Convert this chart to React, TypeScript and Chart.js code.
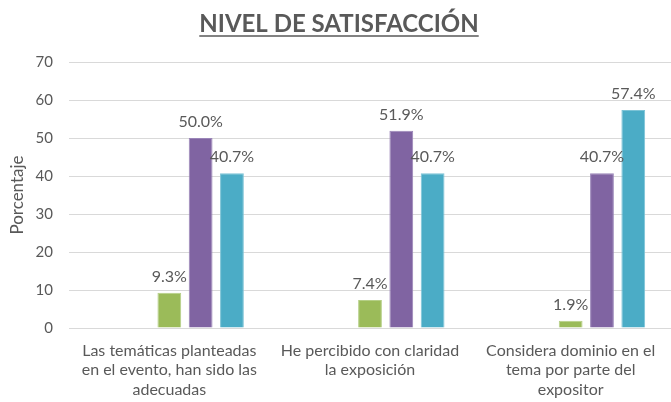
import React, { useEffect, useRef } from "react";
import { Chart, registerables } from "chart.js";

Chart.register(...registerables);

const TITLE = "NIVEL DE SATISFACCIÓN";
const Y_TITLE = "Porcentaje";
const categories: string[][] = [
  ["Las temáticas planteadas", "en el evento, han sido las", "adecuadas"],
  ["He percibido con claridad", "la exposición"],
  ["Considera dominio en el", "tema por parte del", "expositor"],
];
const seriesA = [9.3, 7.4, 1.9];
const seriesB = [50.0, 51.9, 40.7];
const seriesC = [40.7, 40.7, 57.4];
const emptySeries: (number | null)[] = [null, null, null];
const yMin = 0;
const yMax = 70;
const yStep = 10;

const GREEN = "#9BBB59";
const PURPLE = "#8064A2";
const TEAL = "#4BACC6";
const TEXT = "#595959";
const FONT = "Lato, 'Open Sans', sans-serif";

const labelPlugin = {
  id: "barLabels",
  afterDatasetsDraw(chart: any) {
    const ctx = chart.ctx;
    ctx.save();
    ctx.font = `16px ${FONT}`;
    ctx.fillStyle = TEXT;
    ctx.textAlign = "center";
    ctx.textBaseline = "alphabetic";
    chart.data.datasets.forEach((ds: any, di: number) => {
      if (!ds.showLabels) return;
      const meta = chart.getDatasetMeta(di);
      meta.data.forEach((bar: any, i: number) => {
        const v = ds.data[i];
        if (v == null) return;
        ctx.fillText(v.toFixed(1) + "%", bar.x, bar.y - 11);
      });
    });
    ctx.restore();
  },
};

const titlePlugin = {
  id: "ulTitle",
  afterDraw(chart: any) {
    const ctx = chart.ctx;
    ctx.save();
    ctx.font = `bold 24px ${FONT}`;
    ctx.fillStyle = TEXT;
    ctx.textAlign = "center";
    ctx.textBaseline = "alphabetic";
    const cx = 339;
    const by = 32;
    ctx.fillText(TITLE, cx, by);
    const w = ctx.measureText(TITLE).width;
    ctx.strokeStyle = TEXT;
    ctx.lineWidth = 1.5;
    ctx.beginPath();
    ctx.moveTo(cx - w / 2, by + 4);
    ctx.lineTo(cx + w / 2, by + 4);
    ctx.stroke();
    ctx.restore();
  },
};

export default function App() {
  const ref = useRef<HTMLCanvasElement>(null);
  useEffect(() => {
    if (!ref.current) return;
    const chart = new Chart(ref.current, {
      type: "bar",
      data: {
        labels: categories,
        datasets: [
          { label: "", data: emptySeries, backgroundColor: "transparent" },
          { label: "", data: emptySeries, backgroundColor: "transparent" },
          { label: "A", data: seriesA, backgroundColor: GREEN, borderColor: "#b5cf86", borderWidth: 1, showLabels: true } as any,
          { label: "B", data: seriesB, backgroundColor: PURPLE, borderColor: "#9a85b8", borderWidth: 1, showLabels: true } as any,
          { label: "C", data: seriesC, backgroundColor: TEAL, borderColor: "#7cc3d6", borderWidth: 1, showLabels: true } as any,
        ],
      },
      options: {
        animation: false,
        responsive: false,
        maintainAspectRatio: false,
        layout: { padding: { top: 62, right: 0, left: 0, bottom: 0 } },
        datasets: { bar: { categoryPercentage: 0.78, barPercentage: 0.76 } },
        plugins: {
          legend: { display: false },
          title: { display: false },
          tooltip: { enabled: false },
        },
        scales: {
          x: {
            grid: { display: false, drawTicks: false },
            border: { display: false },
            ticks: {
              color: TEXT,
              font: { family: FONT, size: 16, lineHeight: 1.22 },
              maxRotation: 0,
              autoSkip: false,
              padding: 13,
            },
            afterFit(scale: any) {
              scale.height = 74;
            },
          },
          y: {
            min: yMin,
            max: yMax,
            grid: { color: "#d9d9d9", drawTicks: false, lineWidth: 1 },
            border: { display: false },
            ticks: {
              stepSize: yStep,
              color: TEXT,
              font: { family: FONT, size: 15 },
              padding: 16,
            },
            title: {
              display: true,
              text: Y_TITLE,
              color: TEXT,
              font: { family: FONT, size: 17 },
              padding: { top: 7, bottom: 0 },
            },
            afterFit(scale: any) {
              scale.width = 69;
            },
          },
        },
      },
      plugins: [labelPlugin, titlePlugin],
    });
    return () => chart.destroy();
  }, []);
  return (
    <div style={{ position: "fixed", left: 0, top: 0, width: 671, height: 402, background: "#fff" }}>
      <canvas ref={ref} width={671} height={402} style={{ width: 671, height: 402 }} />
    </div>
  );
}
